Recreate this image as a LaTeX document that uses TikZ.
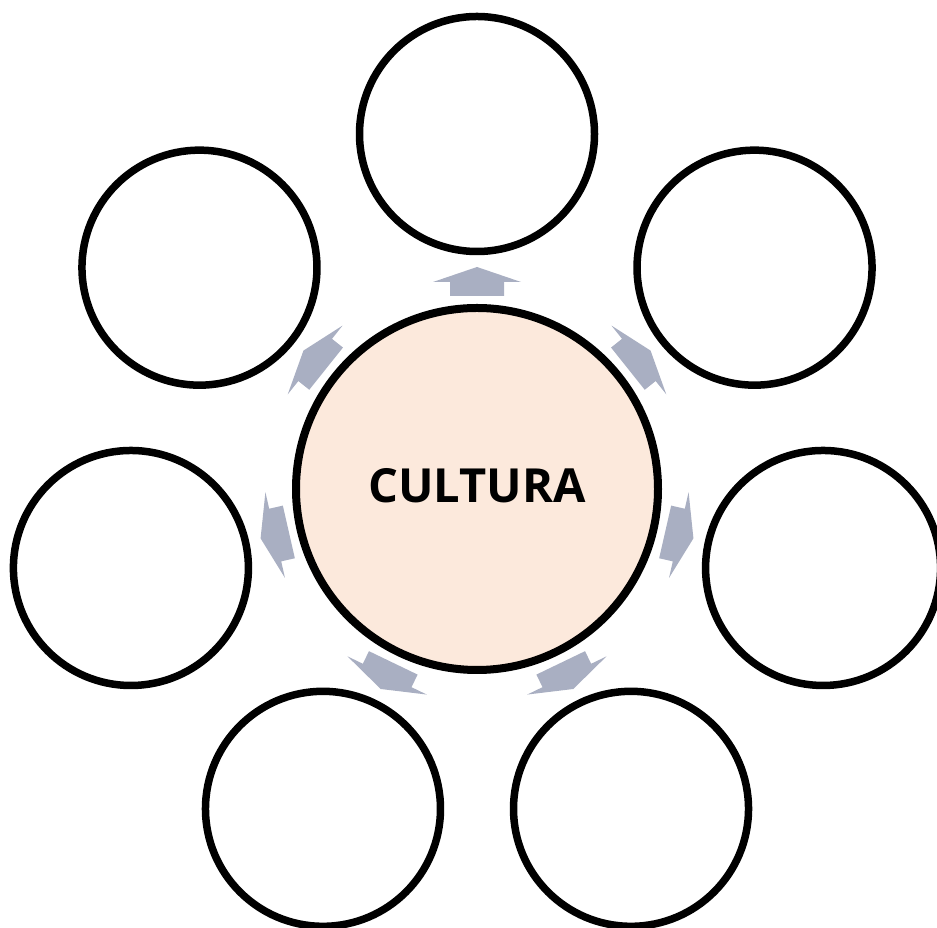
\documentclass[tikz,border=0pt]{standalone}
\usepackage{fontspec}
\setmainfont{Open Sans}
\usetikzlibrary{calc}
\definecolor{peach}{HTML}{FCE9DC}
\definecolor{arrowgray}{HTML}{A9AFC2}
\begin{document}
\begin{tikzpicture}[x=1pt,y=1pt,
  outer/.style={circle,draw=black,line width=7.5pt,fill=white,minimum size=235pt,inner sep=0pt},
  hub/.style={circle,draw=black,line width=8pt,fill=peach,minimum size=362pt,inner sep=0pt},
  blockarrow/.style={fill=arrowgray,draw=none}]
\useasboundingbox (0,0) rectangle (937,928);
\coordinate (c) at (477,439);
\node[hub] (center) at (c) {};
\node[font=\bfseries\fontsize{47}{56}\selectfont,anchor=base] (label) at (477,425) {CULTURA};
\foreach \k in {0,...,6}{
  \pgfmathsetmacro{\ang}{90-\k*360/7}
  \node[outer] (o\k) at ($(c)+(\ang:355)$) {};
  \begin{scope}[shift={(c)},rotate=\ang-90]
    \fill[blockarrow] (-27,193) -- (-27,207) -- (-44,207) -- (0,222) -- (44,207) -- (27,207) -- (27,193) -- cycle;
  \end{scope}
}
\end{tikzpicture}
\end{document}
